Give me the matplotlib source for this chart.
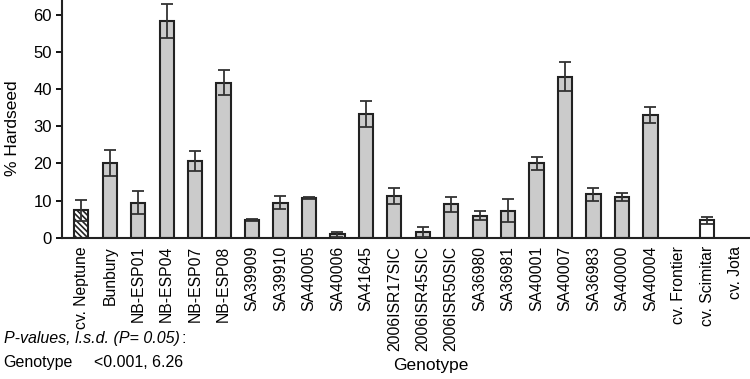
import matplotlib

matplotlib.use("Agg")

import matplotlib.pyplot as plt

plt.rcParams["font.family"] = ["Liberation Sans", "DejaVu Sans"]
plt.rcParams["hatch.linewidth"] = 1.2
plt.rcParams["hatch.color"] = "#222222"

GENOTYPES = [
    "cv. Neptune", "Bunbury", "NB-ESP01", "NB-ESP04", "NB-ESP07", "NB-ESP08",
    "SA39909", "SA39910", "SA40005", "SA40006", "SA41645", "2006ISR17SIC",
    "2006ISR45SIC", "2006ISR50SIC", "SA36980", "SA36981", "SA40001", "SA40007",
    "SA36983", "SA40000", "SA40004", "cv. Frontier", "cv. Scimitar", "cv. Jota",
]
HARDSEED = [
    7.4, 20.0, 9.4, 58.4, 20.7, 41.7, 4.7, 9.4, 10.6, 0.9, 33.3, 11.3,
    1.6, 9.0, 5.9, 7.3, 20.0, 43.3, 11.7, 11.0, 33.1, 0.0, 4.7, 0.0,
]
ERRORS = [
    2.8, 3.5, 3.1, 4.6, 2.7, 3.4, 0.3, 1.8, 0.3, 0.7, 3.4, 2.2,
    1.3, 2.0, 1.2, 3.1, 1.7, 3.9, 1.7, 1.1, 2.2, 0.0, 0.9, 0.0,
]
# bar fill kind: hatched check, grey lines, white checks
KIND = ["hatch"] + ["grey"] * 20 + ["white"] * 3

fig = plt.figure(figsize=(7.5, 3.79), dpi=100)
ax = fig.add_axes([0.083, 0.373, 0.917, 0.627])

x = list(range(len(GENOTYPES)))
for xi, val, err, kind in zip(x, HARDSEED, ERRORS, KIND):
    if val <= 0:
        continue
    face = {"hatch": "white", "grey": "#cbcbcb", "white": "white"}[kind]
    ax.bar(xi, val, width=0.5, color=face, edgecolor="#222222", linewidth=1.5,
           hatch="\\" * 6 if kind == "hatch" else None, zorder=2)
    ax.errorbar(xi, val, yerr=err, fmt="none", ecolor="#333333",
                elinewidth=1.3, capsize=4, capthick=1.3, zorder=3)

ax.set_xlim(-0.67, 23.5)
ax.set_ylim(0, 64)
ax.set_yticks([0, 10, 20, 30, 40, 50, 60])
ax.set_xticks(x)
ax.set_xticklabels(GENOTYPES, rotation=90, fontsize=11.3)
ax.tick_params(axis="x", length=0, pad=6)
ax.tick_params(axis="y", labelsize=12, length=4, width=1.3, direction="out")
for side in ("top", "right"):
    ax.spines[side].set_visible(False)
for side in ("left", "bottom"):
    ax.spines[side].set_linewidth(1.5)
    ax.spines[side].set_color("#222222")

ax.set_ylabel("% Hardseed", fontsize=12.5)
ax.yaxis.set_label_coords(-0.062, 0.46)

fig.text(0.575, 0.035, "Genotype", fontsize=12.5, ha="center", va="center")
t = fig.text(0.005, 0.108, "P-values, l.s.d. (P= 0.05)", fontsize=11.5,
             style="italic", ha="left", va="center")
ax.annotate(":", xy=(1, 0.5), xycoords=t, xytext=(1, 0),
            textcoords="offset points", fontsize=11.5, ha="left", va="center")
fig.text(0.005, 0.043, "Genotype", fontsize=11.5, ha="left", va="center")
fig.text(0.125, 0.043, "<0.001, 6.26", fontsize=11.5, ha="left", va="center")

fig.savefig("out.png", dpi=100)
